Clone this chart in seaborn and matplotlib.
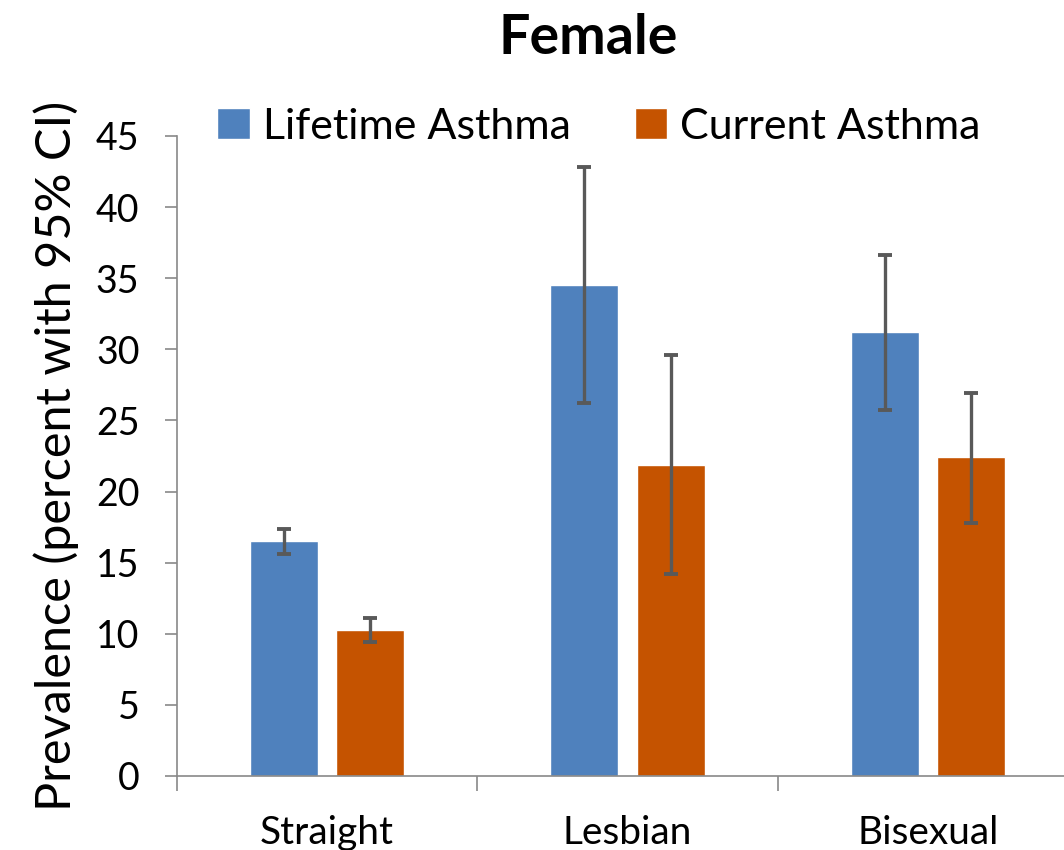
import matplotlib
matplotlib.use("Agg")
import matplotlib.pyplot as plt
import seaborn as sns
import pandas as pd
from matplotlib.ticker import FixedLocator

# data
groups = ["Straight", "Lesbian", "Bisexual"]
series = ["Lifetime Asthma", "Current Asthma"]
lifetime = [16.5, 34.5, 31.2]
lifetime_lo = [15.6, 26.2, 25.7]
lifetime_hi = [17.4, 42.8, 36.6]
current = [10.3, 21.9, 22.4]
current_lo = [9.4, 14.2, 17.8]
current_hi = [11.1, 29.6, 26.9]
colors = {"Lifetime Asthma": "#4F81BD", "Current Asthma": "#C55300"}

df = pd.DataFrame({
    "group": groups * 2,
    "series": [series[0]] * 3 + [series[1]] * 3,
    "value": lifetime + current,
})
ci = {series[0]: (lifetime, lifetime_lo, lifetime_hi),
      series[1]: (current, current_lo, current_hi)}

sns.set_style("white")
plt.rcParams["font.family"] = ["Lato", "DejaVu Sans"]
plt.rcParams["text.color"] = "black"
plt.rcParams["axes.labelcolor"] = "black"
plt.rcParams["xtick.color"] = "black"
plt.rcParams["ytick.color"] = "black"

fig = plt.figure(figsize=(10.64, 8.5), dpi=100)
ax = fig.add_axes([177 / 1064, 74 / 850, 901 / 1064, 640 / 850])

sns.barplot(data=df, x="group", y="value", hue="series", order=groups,
            hue_order=series, palette=colors, width=0.573, gap=0.21,
            saturation=1, errorbar=None, ax=ax)

# error bars from the CI bounds
for cont, name in zip(ax.containers, series):
    vals, lo, hi = ci[name]
    for bar, v, l, h in zip(cont, vals, lo, hi):
        x = bar.get_x() + bar.get_width() / 2
        ax.errorbar(x, v, yerr=[[v - l], [h - v]], fmt="none", ecolor="#595959",
                    elinewidth=2.4, capsize=5, capthick=2.8, zorder=5)

ax.set_ylim(0, 45)
ax.set_xlim(-0.5, 2.5)
ax.set_yticks(range(0, 46, 5))
ax.tick_params(axis="y", labelsize=27, length=9, width=1.2, color="#898989",
               labelcolor="black", direction="out", pad=18, left=True)
ax.tick_params(axis="x", which="major", labelsize=28, length=0, pad=28,
               labelcolor="black")
ax.xaxis.set_minor_locator(FixedLocator([-0.5, 0.5, 1.5, 2.5]))
ax.tick_params(axis="x", which="minor", length=11, width=1.2, color="#898989",
               direction="out", bottom=True)

for side in ["top", "right"]:
    ax.spines[side].set_visible(False)
for side in ["left", "bottom"]:
    ax.spines[side].set_color("#898989")
    ax.spines[side].set_linewidth(1.2)

ax.set_xlabel("")
ax.set_ylabel("Prevalence (percent with 95% CI)", fontsize=35, labelpad=12)

handles, labels = ax.get_legend_handles_labels()
ax.get_legend().remove()
fig.legend(handles, labels, loc="center", bbox_to_anchor=(0.563, 0.851), ncol=2,
           frameon=False, fontsize=31, handlelength=0.75, handleheight=0.75,
           handletextpad=0.3, columnspacing=1.5)

fig.text(0.553, 0.955, "Female", ha="center", va="center", fontsize=40,
         fontweight="bold")

fig.savefig("out.png", dpi=100)
